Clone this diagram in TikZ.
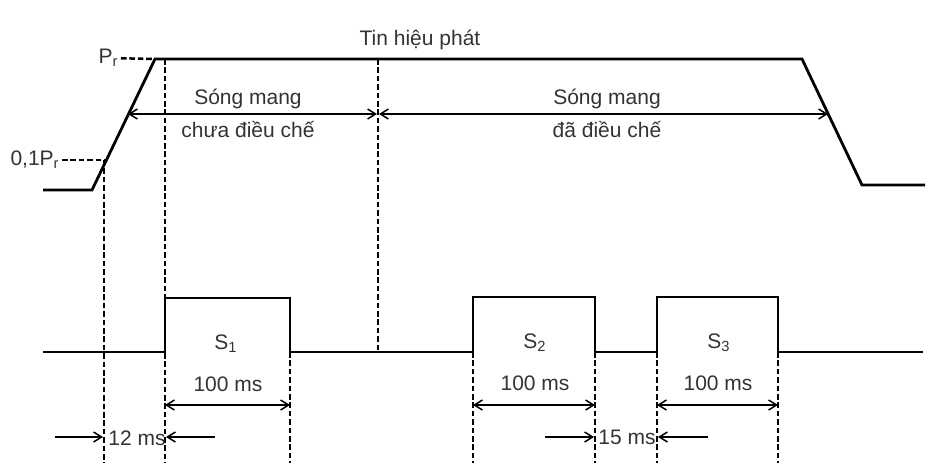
\documentclass[tikz,border=0pt]{standalone}
\usepackage{fontspec}
\setmainfont{Liberation Sans}
\usetikzlibrary{arrows.meta}

\begin{document}
\begin{tikzpicture}[x=0.5pt, y=-0.5pt, >={Straight Barb[length=4pt,width=5pt]},
  sig/.style={line width=1.4pt, line join=miter},
  guide/.style={line width=1.25pt, dash pattern=on 2.8pt off 1.4pt},
  dim/.style={line width=0.75pt},
  lbl/.style={font=\fontsize{10.5}{12}\selectfont, text=black!80, inner sep=1pt}]
  \useasboundingbox (0,0) rectangle (941,463);
  % transmitted signal
  \coordinate (lowL) at (43,190);
  \coordinate (rampB) at (92,190);
  \coordinate (rampT) at (155,59);
  \coordinate (fallT) at (802,59);
  \coordinate (fallB) at (862,185);
  \coordinate (lowR) at (925,185);
  \draw[sig] (lowL) -- (rampB) -- (rampT) -- (fallT) -- (fallB) -- (lowR);
  \node[lbl] (title) at (420,40) {Tin hiệu phát};
  % level marks
  \node[lbl, anchor=east] (pr) at (121,58) {P\textsubscript{r}};
  \node[lbl, anchor=east] (pr01) at (62,160) {0,1P\textsubscript{r}};
  \coordinate (rampP) at (106,160);
  \draw[guide] (pr) -- (rampT);
  \draw[guide] (pr01) -- (rampP);
  % pulse train
  \coordinate (baseL) at (43,352);
  \coordinate (baseR) at (923,352);
  \draw[sig] (baseL) -- (165,352) -- (165,298) -- (290,298) -- (290,352)
    -- (473,352) -- (473,297) -- (595,297) -- (595,352)
    -- (657,352) -- (657,297) -- (778,297) -- (778,352) -- (baseR);
  % guide lines
  \draw[guide] (104,160) -- (104,463);
  \draw[guide] (165,59) -- (165,463);
  \draw[guide] (378,59) -- (378,352);
  \foreach \gx in {290,473,595,657,778}
    \draw[guide] (\gx,352) -- (\gx,463);
  % carrier spans
  \coordinate (cA) at (128,114);
  \coordinate (cB) at (377,114);
  \coordinate (cC) at (379,114);
  \coordinate (cD) at (828,114);
  \draw[dim,<->] (cA) -- (cB);
  \draw[dim,<->] (cC) -- (cD);
  \node[lbl] (unmod1) at (248,99) {Sóng mang};
  \node[lbl] (unmod2) at (248,130) {chưa điều chế};
  \node[lbl] (mod1) at (607,99) {Sóng mang};
  \node[lbl] (mod2) at (607,130) {đã điều chế};
  % pulses
  \node[lbl] (s1) at (226,344) {S\textsubscript{1}};
  \node[lbl] (s2) at (535,343) {S\textsubscript{2}};
  \node[lbl] (s3) at (719,343) {S\textsubscript{3}};
  \node[lbl] (d1) at (228,384) {100 ms};
  \node[lbl] (d2) at (535,383) {100 ms};
  \node[lbl] (d3) at (718,383) {100 ms};
  \draw[dim,<->] (165,405) -- (290,405);
  \draw[dim,<->] (473,405) -- (595,405);
  \draw[dim,<->] (657,405) -- (778,405);
  % gaps
  \node[lbl] (g12) at (137,438) {12 ms};
  \node[lbl] (g15) at (627,437) {15 ms};
  \draw[dim,->] (55,437) -- (103,437);
  \draw[dim,->] (215,437) -- (166,437);
  \draw[dim,->] (545,437) -- (594,437);
  \draw[dim,->] (708,437) -- (658,437);
\end{tikzpicture}
\end{document}
